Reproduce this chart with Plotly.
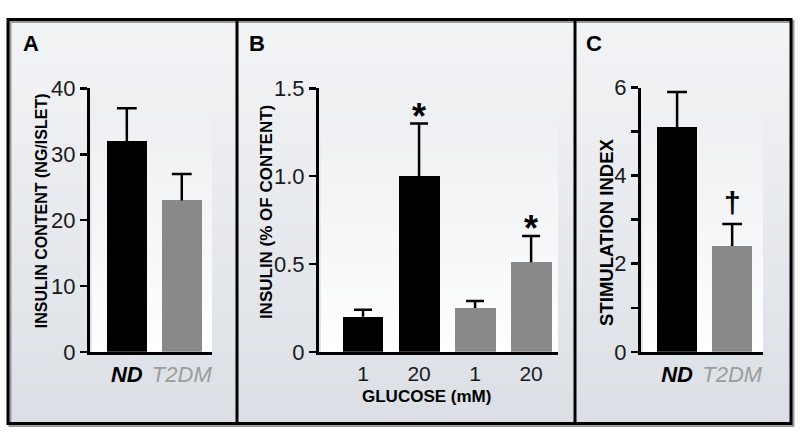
import plotly.graph_objects as go

W, H = 800, 446

# ---------------- data ----------------
a_groups = ["ND", "T2DM"]
a_content = [32, 23]
a_content_sem = [5, 4]
a_yticks = [0, 10, 20, 30, 40]

b_glucose = ["1", "20", "1", "20"]
b_groups = ["ND", "ND", "T2DM", "T2DM"]
b_secretion = [0.20, 1.00, 0.25, 0.51]
b_secretion_sem = [0.04, 0.30, 0.04, 0.15]
b_marks = ["", "*", "", "*"]
b_yticks = [0, 0.5, 1.0, 1.5]
b_ytick_labels = ["0", "0.5", "1.0", "1.5"]

c_groups = ["ND", "T2DM"]
c_index = [5.1, 2.4]
c_index_sem = [0.8, 0.5]
c_marks = ["", "†"]
c_yticks = [0, 1, 2, 3, 4, 5, 6]
c_ytick_labels = ["0", "", "2", "", "4", "", "6"]

# ---------------- style ----------------
FONT = "Liberation Sans, Arial, Helvetica, sans-serif"
BLACK = "#000000"
GRAY = "#898989"
LABEL_GRAY = "#9c9c9c"
group_color = {"ND": BLACK, "T2DM": GRAY}


def px(x):
    return x / W


def py(y):
    return 1 - y / H


fig = go.Figure()
shapes = []
annotations = []

# background gradient of the frame
FX0, FY0, FX1, FY1 = 8, 8, 791, 436
nb = 40
top_c = (243, 244, 246)
bot_c = (219, 223, 229)
for i in range(nb):
    t = (i + 0.5) / nb
    c = tuple(int(round(top_c[k] + (bot_c[k] - top_c[k]) * t)) for k in range(3))
    y0 = FY0 + (FY1 - FY0) * i / nb
    y1 = FY0 + (FY1 - FY0) * (i + 1) / nb + 0.5
    shapes.append(dict(type="rect", xref="paper", yref="paper", layer="below",
                       x0=px(FX0), x1=px(FX1), y0=py(y1), y1=py(y0),
                       fillcolor="rgb(%d,%d,%d)" % c, line=dict(width=0)))

# panel geometry (pixels)
panels = [
    dict(x0=90, x1=212, ytop=81),
    dict(x0=319, x1=558, ytop=81),
    dict(x0=641, x1=763, ytop=80),
]
YBOT = 360

# whitish glow behind plot areas
for p in panels:
    nb2 = 24
    ystart = p["ytop"] + 10
    for i in range(nb2):
        t = (i + 0.5) / nb2
        y0 = ystart + (YBOT - ystart) * i / nb2
        y1 = ystart + (YBOT - ystart) * (i + 1) / nb2 + 0.5
        shapes.append(dict(type="rect", xref="paper", yref="paper", layer="below",
                           x0=px(p["x0"] + 2), x1=px(p["x1"]), y0=py(y1), y1=py(y0),
                           fillcolor="rgba(255,255,255,%.3f)" % (t ** 0.8),
                           line=dict(width=0)))

# shadow + frame + dividers
shapes.append(dict(type="rect", xref="paper", yref="paper", layer="below",
                   x0=px(FX0 + 2), x1=px(FX1 + 2), y0=py(FY1 + 2), y1=py(FY0 + 2),
                   line=dict(color="#9a9a9a", width=3), fillcolor="rgba(0,0,0,0)"))
shapes.append(dict(type="rect", xref="paper", yref="paper", layer="above",
                   x0=px(FX0), x1=px(FX1), y0=py(FY1), y1=py(FY0),
                   line=dict(color=BLACK, width=3), fillcolor="rgba(0,0,0,0)"))
for xd in (237, 575):
    shapes.append(dict(type="line", xref="paper", yref="paper", layer="above",
                       x0=px(xd), x1=px(xd), y0=py(FY1), y1=py(FY0),
                       line=dict(color=BLACK, width=3)))


def add_panel(idx, groups, values, sems, marks, mark_style, capw):
    xa = "x" if idx == 1 else "x%d" % idx
    ya = "y" if idx == 1 else "y%d" % idx
    xs = list(range(len(values)))
    fig.add_trace(go.Bar(x=xs, y=values, width=0.73,
                         marker=dict(color=[group_color[g] for g in groups], line=dict(width=0)),
                         xaxis=xa, yaxis=ya, showlegend=False, hoverinfo="skip"))
    ex, ey = [], []
    for i, (v, e) in enumerate(zip(values, sems)):
        ex += [i, i, None, i - capw, i + capw, None]
        ey += [v, v + e, None, v + e, v + e, None]
    fig.add_trace(go.Scatter(x=ex, y=ey, mode="lines", line=dict(color=BLACK, width=2.5),
                             xaxis=xa, yaxis=ya, showlegend=False, hoverinfo="skip",
                             cliponaxis=False))
    for i, (v, e, m) in enumerate(zip(values, sems, marks)):
        if m:
            annotations.append(dict(x=i, y=v + e, xref=xa, yref=ya, text="<b>%s</b>" % m,
                                    showarrow=False, yanchor="bottom", yshift=mark_style[1],
                                    font=dict(family=FONT, size=mark_style[0], color=BLACK)))


add_panel(1, a_groups, a_content, a_content_sem, ["", ""], (34, -8), 0.18)
add_panel(2, b_groups, b_secretion, b_secretion_sem, b_marks, (36, -15), 0.16)
add_panel(3, c_groups, c_index, c_index_sem, c_marks, (30, 3), 0.18)

ydom = [py(YBOT), py(81)]
yaxis_common = dict(showline=True, linecolor=BLACK, linewidth=3, ticks="outside",
                    ticklen=7, tickwidth=2.5, tickcolor=BLACK, showgrid=False, zeroline=False,
                    tickfont=dict(family=FONT, size=22, color="#1a1a1a"), fixedrange=True)
xaxis_common = dict(showline=True, linecolor=BLACK, linewidth=3, ticks="", showgrid=False,
                    zeroline=False, tickfont=dict(family=FONT, size=21, color="#1a1a1a"),
                    ticklabelstandoff=1, fixedrange=True)


def group_label(g):
    if g == "ND":
        return "<b><i>%s</i></b>" % g
    return "<i><span style='color:%s'>%s</span></i>" % (LABEL_GRAY, g)


xa_groups = dict(xaxis_common)
xa_groups["tickfont"] = dict(family=FONT, size=22, color="#000000")

fig.update_layout(
    width=W, height=H, margin=dict(l=0, r=0, t=0, b=0),
    paper_bgcolor="white", plot_bgcolor="rgba(0,0,0,0)",
    bargap=0, barmode="overlay",
    xaxis=dict(domain=[px(90), px(212)], range=[-0.67, 1.55], anchor="y",
               tickvals=list(range(len(a_groups))), ticktext=[group_label(g) for g in a_groups],
               **xa_groups),
    yaxis=dict(domain=ydom, range=[0, 40], anchor="x", tickvals=a_yticks, **yaxis_common),
    xaxis2=dict(domain=[px(319), px(558)], range=[-0.786, 3.48], anchor="y2",
                tickvals=list(range(len(b_glucose))), ticktext=b_glucose, **xaxis_common),
    yaxis2=dict(domain=ydom, range=[0, 1.5], anchor="x2", tickvals=b_yticks,
                ticktext=b_ytick_labels, **yaxis_common),
    xaxis3=dict(domain=[px(641), px(763)], range=[-0.655, 1.56], anchor="y3",
                tickvals=list(range(len(c_groups))), ticktext=[group_label(g) for g in c_groups],
                **xa_groups),
    yaxis3=dict(domain=[py(YBOT), py(80)], range=[0, 6], anchor="x3", tickvals=c_yticks,
                ticktext=c_ytick_labels, **yaxis_common),
)

# panel letters
for letter, x in (("A", 21), ("B", 247), ("C", 584)):
    annotations.append(dict(x=px(x), y=py(33), xref="paper", yref="paper", text="<b>%s</b>" % letter,
                            showarrow=False, xanchor="left", yanchor="middle",
                            font=dict(family=FONT, size=22, color=BLACK)))

# axis titles
titles = [
    ("INSULIN CONTENT (NG/ISLET)", 41, 211, 16),
    ("INSULIN (% OF CONTENT)", 266, 212, 17),
    ("STIMULATION INDEX", 607, 234, 18.5),
]
for text, x, y, s in titles:
    annotations.append(dict(x=px(x), y=py(y), xref="paper", yref="paper", text="<b>%s</b>" % text,
                            showarrow=False, textangle=-90, xanchor="center", yanchor="middle",
                            font=dict(family=FONT, size=s, color=BLACK)))
annotations.append(dict(x=px(427), y=py(407), xref="paper", yref="paper", text="<b>GLUCOSE (mM)</b>",
                        showarrow=False, xanchor="center", yanchor="middle",
                        font=dict(family=FONT, size=17, color=BLACK)))

fig.update_layout(shapes=shapes, annotations=annotations)
fig.write_html("out.html", config={"displayModeBar": False, "staticPlot": True},
               post_script="document.body.style.margin='0';document.body.style.padding='0';"
                           "document.documentElement.style.overflow='hidden';")
